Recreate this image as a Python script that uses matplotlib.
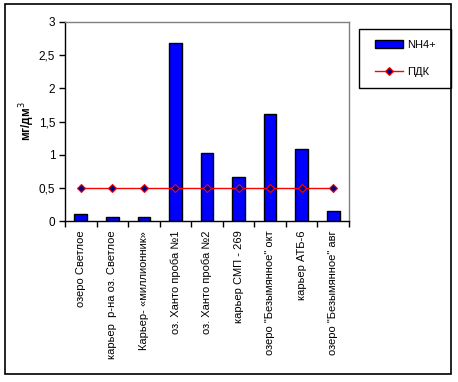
import matplotlib
matplotlib.use("Agg")
import matplotlib.pyplot as plt
from matplotlib.patches import Rectangle
from matplotlib.ticker import FuncFormatter, FixedLocator

plt.rcParams['font.family'] = ['Liberation Sans', 'DejaVu Sans']

categories = [
    "озеро Светлое",
    "карьер  р-на оз. Светлое",
    "Карьер- «миллионник»",
    "оз. Ханто проба №1",
    "оз. Ханто проба №2",
    "карьер СМП - 269",
    "озеро \"Безымянное\" окт",
    "карьер АТБ-6",
    "озеро \"Безымянное\" авг",
]
nh4 = [0.10, 0.055, 0.055, 2.69, 1.03, 0.66, 1.61, 1.08, 0.15]
pdk = [0.5, 0.5, 0.5, 0.5, 0.5, 0.5, 0.5, 0.5, 0.5]
yticks = [0, 0.5, 1, 1.5, 2, 2.5, 3]

W, H = 458, 382
fig = plt.figure(figsize=(W / 100, H / 100), dpi=100)

# outer frame
fig.patches.append(Rectangle((5 / W, 1 - 374 / H), 446 / W, 370 / H,
                             transform=fig.transFigure, fill=False,
                             edgecolor='black', linewidth=1.2))

ax = fig.add_axes([65 / W, 1 - 221 / H, 284 / W, 199 / H])
x = list(range(len(categories)))
bars = ax.bar(x, nh4, width=0.4, color='#0000FF', edgecolor='black', linewidth=1.0,
              label='NH4+', zorder=2)
line, = ax.plot(x, pdk, color='red', linewidth=1.0, marker='D', markersize=4,
                markerfacecolor='#000080', markeredgecolor='red', markeredgewidth=0.8,
                label='ПДК', zorder=3)

ax.set_xlim(-0.5, len(categories) - 0.5)
ax.set_ylim(0, 3)
ax.set_yticks(yticks)
ax.yaxis.set_major_formatter(FuncFormatter(lambda v, p: ('%g' % v).replace('.', ',')))
ax.tick_params(axis='y', direction='out', length=4, width=1, labelsize=8.5, pad=3)

ax.set_xticks(x)
ax.set_xticklabels(categories, rotation=90, fontsize=8)
ax.tick_params(axis='x', which='major', length=0, pad=7)
ax.xaxis.set_minor_locator(FixedLocator([i - 0.5 for i in range(len(categories) + 1)]))
ax.tick_params(axis='x', which='minor', direction='out', length=4, width=1)

for s in ['left', 'bottom']:
    ax.spines[s].set_color('black')
    ax.spines[s].set_linewidth(1.0)
for s in ['top', 'right']:
    ax.spines[s].set_color('#808080')
    ax.spines[s].set_linewidth(1.0)

ax.set_ylabel('мг/дм$^3$', fontsize=8.5, fontweight='bold')
ax.yaxis.set_label_coords(-(65 - 37) / 284, 0.5)

# legend box
fig.patches.append(Rectangle((359 / W, 1 - 88 / H), 92 / W, 59 / H,
                             transform=fig.transFigure, fill=False,
                             edgecolor='black', linewidth=1.0))
fig.legend([bars, line], ['NH4+', 'ПДК'], loc='center',
           bbox_to_anchor=(405 / W, 1 - 58.5 / H), frameon=False,
           fontsize=8, handlelength=2.6, handletextpad=0.3, labelspacing=1.6)

fig.savefig('out.png', dpi=100)
